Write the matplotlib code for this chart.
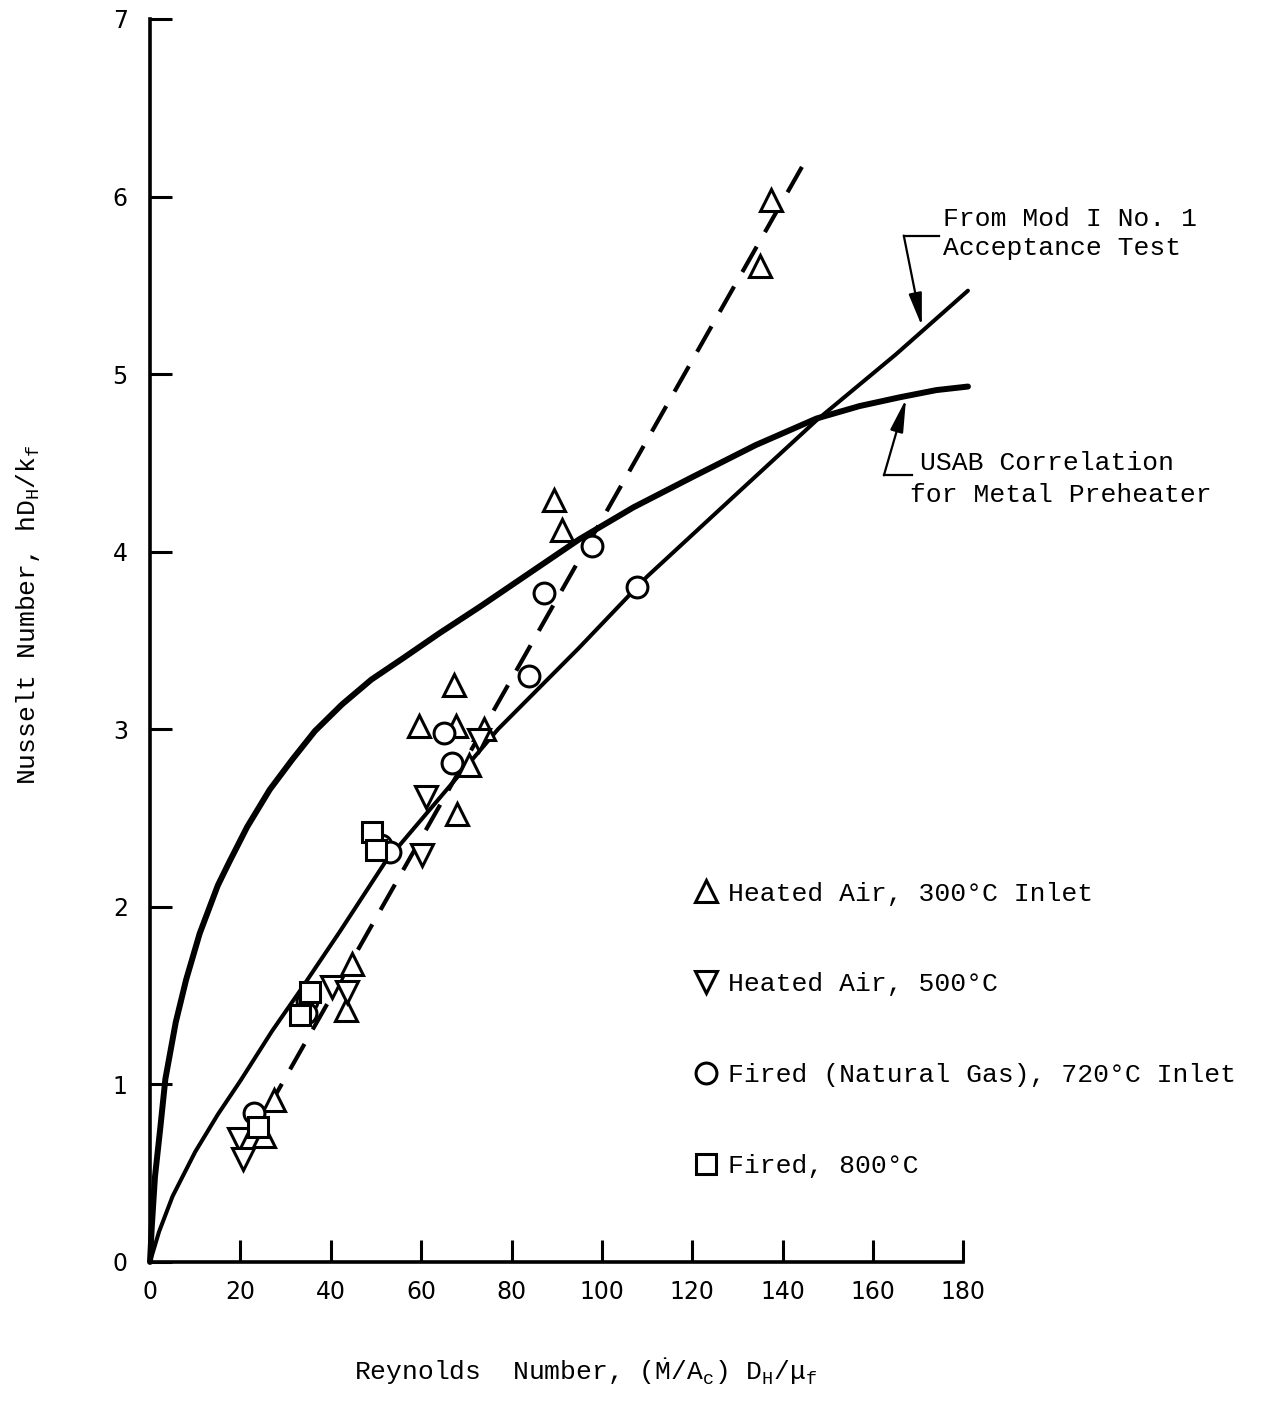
import matplotlib
matplotlib.use('Agg')
import matplotlib.pyplot as plt

plt.rcParams.update({
    'mathtext.fontset': 'custom',
    'mathtext.rm': 'Liberation Mono',
    'mathtext.it': 'Liberation Mono',
    'mathtext.bf': 'Liberation Mono',
})
MONO = 'Liberation Mono'

# --- data ---
air300_re = [137.5, 134.9, 89.4, 91.2, 67.3, 59.6, 67.8, 74.0, 70.6, 68.0, 44.8, 43.3, 27.5, 25.2]
air300_nu = [5.98, 5.61, 4.29, 4.12, 3.25, 3.02, 3.02, 3.00, 2.80, 2.52, 1.68, 1.42, 0.91, 0.71]

air500_re = [19.7, 20.5, 40.2, 43.5, 60.3, 61.1, 72.8]
air500_nu = [0.69, 0.58, 1.55, 1.52, 2.29, 2.62, 2.94]

gas720_re = [97.8, 107.7, 87.2, 83.9, 65.1, 66.9, 51.2, 53.0, 34.7, 34.5, 23.1]
gas720_nu = [4.03, 3.80, 3.77, 3.30, 2.98, 2.81, 2.35, 2.31, 1.47, 1.40, 0.84]

fired800_re = [49.2, 50.1, 33.1, 35.5, 23.9]
fired800_nu = [2.42, 2.32, 1.39, 1.52, 0.76]

# fitted line through the heated-air data (dashed)
fit_re = [26.0, 145.0]
fit_nu = [0.86, 6.20]

# "From Mod I No. 1 Acceptance Test" curve
modi_re = [0, 2, 5, 10, 15, 20, 27, 33, 42, 52, 62, 77, 95, 110, 130, 147.5, 165, 181]
modi_nu = [0, 0.17, 0.37, 0.62, 0.83, 1.02, 1.30, 1.52, 1.86, 2.25, 2.55, 3.00, 3.46, 3.86, 4.33, 4.74, 5.11, 5.47]

# "USAB Correlation for Metal Preheater" curve
usab_re = [0, 0.4, 1.1, 2.3, 3.4, 5.7, 8.0, 11.0, 15.0, 17.5, 21.5, 26.5, 31.5, 36.5, 42.5,
           49, 56, 64, 73, 84, 95, 107, 120, 134, 147.5, 157, 166, 174, 181]
usab_nu = [0, 0.20, 0.48, 0.76, 1.03, 1.35, 1.59, 1.85, 2.12, 2.25, 2.45, 2.66, 2.83, 2.99, 3.14,
           3.28, 3.40, 3.54, 3.69, 3.88, 4.07, 4.25, 4.42, 4.60, 4.75, 4.82, 4.87, 4.91, 4.93]

labels = ['Heated Air, 300°C Inlet', 'Heated Air, 500°C',
          'Fired (Natural Gas), 720°C Inlet', 'Fired, 800°C']

fig = plt.figure(figsize=(12.69, 14.07), dpi=100)
ax = fig.add_axes([0.1182, 0.1031, 0.641, 0.8834])

ax.plot(usab_re, usab_nu, color='black', lw=4.3, clip_on=False, zorder=2,
        solid_capstyle='round', solid_joinstyle='round')
ax.plot(modi_re, modi_nu, color='black', lw=2.9, clip_on=False, zorder=2,
        solid_capstyle='round', solid_joinstyle='round')
ax.plot(fit_re, fit_nu, color='black', lw=3.0, dashes=(7, 4), zorder=2)

mk = dict(ls='none', mfc='white', mec='black', mew=2.2, zorder=3)
h1, = ax.plot(air300_re, air300_nu, marker='^', ms=16, **mk)
h2, = ax.plot(air500_re, air500_nu, marker='v', ms=16, **mk)
h3, = ax.plot(gas720_re, gas720_nu, marker='o', ms=15, **mk)
h4, = ax.plot(fired800_re, fired800_nu, marker='s', ms=14, **mk)

ax.legend([h1, h2, h3, h4], labels, loc='upper left',
          bbox_to_anchor=(0.670, 0.306), frameon=False,
          prop={'family': MONO, 'size': 19}, labelspacing=2.53,
          handlelength=0.8, handletextpad=0.45, borderpad=0, borderaxespad=0)

# annotations
arrow = dict(arrowstyle='-|>,head_length=2.0,head_width=0.4',
             lw=1.6, color='black', shrinkA=0, shrinkB=0)
ax.text(175.4, 5.79, 'From Mod I No. 1\nAcceptance Test', family=MONO,
        fontsize=19, ha='left', va='center', linespacing=1.25)
ax.plot([174.6, 166.8], [5.78, 5.78], color='black', lw=1.6, clip_on=False)
ax.annotate('', xy=(170.8, 5.27), xytext=(166.8, 5.78),
            arrowprops=arrow, annotation_clip=False)

ax.text(170.4, 4.50, 'USAB Correlation', family=MONO, fontsize=19,
        ha='left', va='center')
ax.text(168.1, 4.32, 'for Metal Preheater', family=MONO, fontsize=19,
        ha='left', va='center')
ax.plot([168.6, 162.4], [4.43, 4.43], color='black', lw=1.6, clip_on=False)
ax.annotate('', xy=(167.3, 4.86), xytext=(162.4, 4.43),
            arrowprops=arrow, annotation_clip=False)

# axes styling
ax.set_xlim(0, 180)
ax.set_ylim(0, 7)
ax.set_xticks(range(0, 181, 20))
ax.set_yticks(range(0, 8))
for s in ['top', 'right']:
    ax.spines[s].set_visible(False)
for s in ['left', 'bottom']:
    ax.spines[s].set_linewidth(2.6)
ax.tick_params(direction='in', length=16, width=2.2, pad=13,
               labelsize=17)
ax.tick_params(axis='y', pad=16)
for lab in ax.get_xticklabels() + ax.get_yticklabels():
    lab.set_family('DejaVu Sans')

fig.text(0.462, 0.025,
         r'Reynolds  Number, ($\dot{\mathrm{M}}$/A$_\mathrm{c}$) D$_\mathrm{H}$/μ$_\mathrm{f}$',
         family=MONO, fontsize=19, ha='center', va='center')
fig.text(0.022, 0.563, r'Nusselt Number, hD$_\mathrm{H}$/k$_\mathrm{f}$',
         family=MONO, fontsize=19, ha='center', va='center', rotation=90)

fig.savefig('out.png', dpi=100)
